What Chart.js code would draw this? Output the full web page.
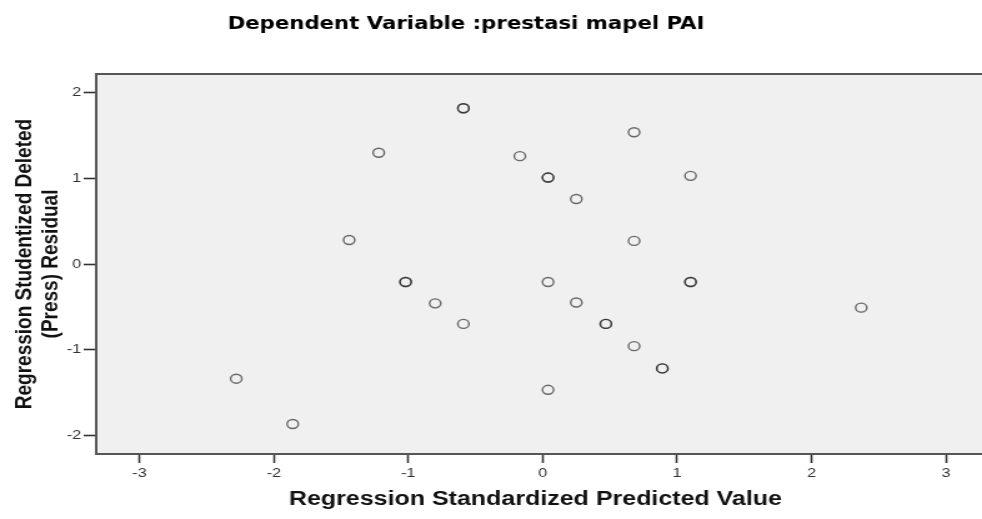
<!DOCTYPE html>
<html>
<head>
<meta charset="utf-8">
<script src="https://cdn.jsdelivr.net/npm/chart.js"></script>
<style>
  html, body { margin: 0; padding: 0; background: #fff; overflow: hidden; }
  /* the reference picture is stretched sideways, so the chart is too */
  #wrap { width: 786px; height: 519px; transform: scaleX(1.2494); transform-origin: 0 0; }
</style>
</head>
<body>
<div id="wrap"><canvas id="residChart"></canvas></div>
<script>
// Scatterplot: studentized deleted residual vs standardized predicted value

const chartTitle = 'Dependent Variable :prestasi mapel PAI';
const xTitle = 'Regression Standardized Predicted Value';
const yTitle = ['Regression Studentized Deleted', '(Press) Residual'];

// repeated pairs are cases that sit on top of each other
const predicted = [-0.59, -0.59, -1.22, -0.17, 0.04, 0.04, 0.25, -1.44, 0.68, 1.10, 0.68,
  -1.02, -1.02, -0.80, -0.59, 0.04, 0.25, -2.28, -1.86, 0.04, 1.10, 1.10,
  0.47, 0.47, 0.68, 0.89, 0.89, 2.37];
const residual = [1.82, 1.82, 1.30, 1.26, 1.01, 1.01, 0.76, 0.28, 1.54, 1.03, 0.27,
  -0.21, -0.21, -0.46, -0.70, -0.21, -0.45, -1.34, -1.87, -1.47, -0.21, -0.21,
  -0.70, -0.70, -0.96, -1.22, -1.22, -0.51];

const xTicks = [-3, -2, -1, 0, 1, 2, 3];
const yTicks = [-2, -1, 0, 1, 2];

const points = predicted.map((x, i) => ({ x: x, y: residual[i] }));

const frame = {
  id: 'frame',
  beforeDraw(chart) {
    const { ctx, chartArea: a } = chart;
    ctx.save();
    ctx.fillStyle = '#f0f0f0';
    ctx.fillRect(a.left, a.top, chart.width - a.left, a.bottom - a.top);
    ctx.restore();
  },
  afterDraw(chart) {
    const { ctx, chartArea: a } = chart;
    ctx.save();
    ctx.strokeStyle = '#555';
    ctx.lineWidth = 2;
    ctx.beginPath();
    ctx.moveTo(a.left - 1, a.top);
    ctx.lineTo(chart.width, a.top);
    ctx.moveTo(a.right, a.bottom);
    ctx.lineTo(chart.width, a.bottom);
    ctx.stroke();
    ctx.fillStyle = '#000';
    ctx.font = 'bold 17px "Comic Sans MS", "DejaVu Sans", sans-serif';
    ctx.textAlign = 'center';
    ctx.textBaseline = 'middle';
    ctx.fillText(chartTitle, 373, 25);
    ctx.restore();
  }
};

const residCtx = document.getElementById('residChart');

new Chart(residCtx, {
  type: 'scatter',

  data: {
    datasets: [{
      data: points,
      pointRadius: 4.5,
      pointHoverRadius: 4.5,
      pointBorderWidth: 1.4,
      pointBackgroundColor: 'rgba(0,0,0,0)',
      pointBorderColor: 'rgba(30,30,30,0.65)'
    }]
  },

  options: {
    responsive: true,
    maintainAspectRatio: false,
    animation: false,
    layout: {
      padding: { top: 74, left: 0, right: 0, bottom: 0 }
    },

    plugins: {
      legend: { display: false },
      tooltip: { enabled: false }
    },

    scales: {
      x: {
        type: 'linear',
        min: -3.322,
        max: 3.214,
        afterBuildTicks: s => { s.ticks = xTicks.map(v => ({ value: v })); },
        afterFit: s => { s.height = 65; },
        border: { display: true, color: '#555', width: 2 },
        grid: { drawOnChartArea: false, drawTicks: true, tickLength: 9, tickWidth: 1.6, tickColor: '#333' },
        ticks: {
          padding: 3,
          maxRotation: 0,
          color: '#333',
          font: { family: '"Liberation Sans", Arial, sans-serif', size: 13 }
        },
        title: {
          display: true,
          text: xTitle,
          color: '#111',
          padding: { top: 0, bottom: 9 },
          font: { family: '"Liberation Sans", Arial, sans-serif', size: 20, weight: 'bold', lineHeight: 1.1 }
        }
      },

      y: {
        type: 'linear',
        min: -2.22,
        max: 2.22,
        afterBuildTicks: s => { s.ticks = yTicks.map(v => ({ value: v })); },
        afterFit: s => { s.width = 77; },
        border: { display: true, color: '#555', width: 2 },
        grid: { drawOnChartArea: false, drawTicks: true, tickLength: 10, tickWidth: 1.6, tickColor: '#333' },
        ticks: {
          padding: 2,
          color: '#333',
          font: { family: '"Liberation Sans", Arial, sans-serif', size: 13 }
        },
        title: {
          display: true,
          text: yTitle,
          color: '#111',
          padding: { top: 9, bottom: 0 },
          font: { family: '"Liberation Sans", Arial, sans-serif', size: 19, weight: 'bold', lineHeight: 1.1 }
        }
      }
    }
  },

  plugins: [frame]
});
</script>
</body>
</html>
